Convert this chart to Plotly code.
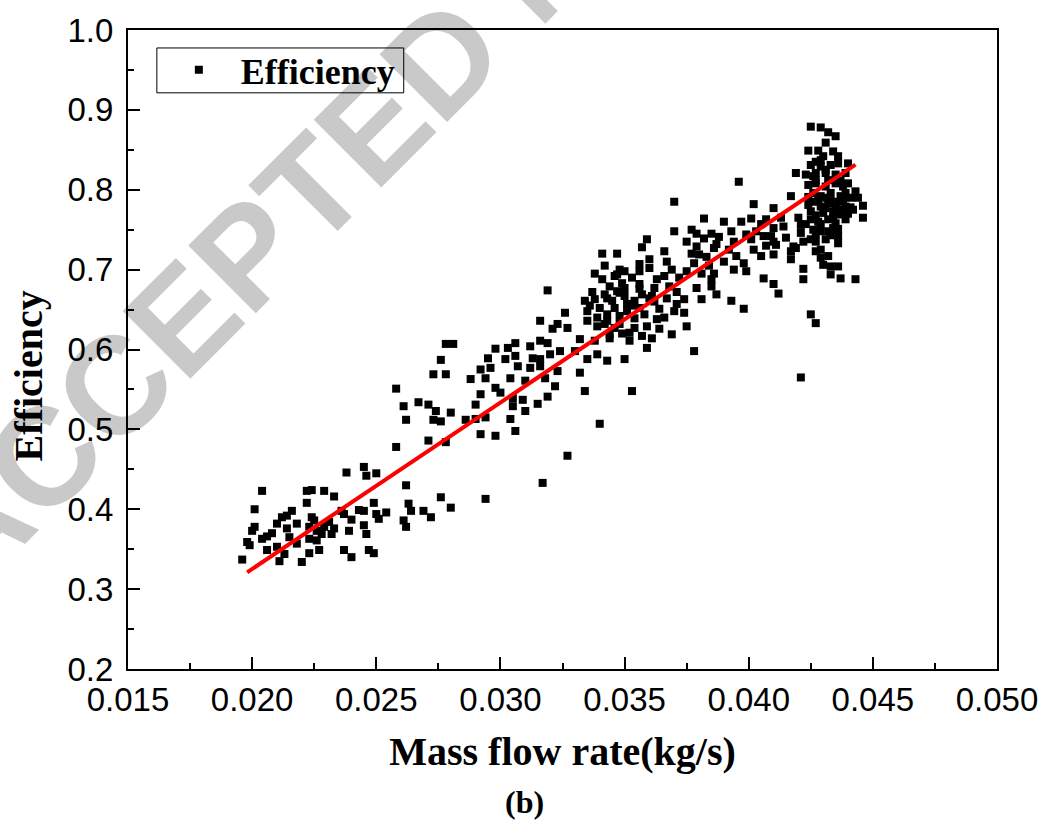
import plotly.graph_objects as go

# ---------------- data ----------------
# low-flow cluster
low_x = [0.0196, 0.0198, 0.0199, 0.0200, 0.0201, 0.0201, 0.0204, 0.0204, 0.0206, 0.0206,
         0.0208, 0.0210, 0.0210, 0.0211, 0.0213, 0.0212, 0.0214, 0.0216, 0.0214, 0.0215,
         0.0218, 0.0218, 0.0220, 0.0222, 0.0222, 0.0224, 0.0223, 0.0224, 0.0223, 0.0225,
         0.0226, 0.0223, 0.0226, 0.0227, 0.0229, 0.0229, 0.0228, 0.0231, 0.0233, 0.0233,
         0.0232, 0.0236, 0.0238, 0.0237, 0.0237, 0.0240, 0.0239, 0.0240, 0.0243, 0.0245,
         0.0245, 0.0246, 0.0250, 0.0245, 0.0246, 0.0247, 0.0249, 0.0249, 0.0250, 0.0251,
         0.0254, 0.0258, 0.0262, 0.0263, 0.0264, 0.0261, 0.0262, 0.0269, 0.0272, 0.0271,
         0.0276, 0.0280, 0.0294, 0.0317, 0.0327]
low_y = [0.337, 0.359, 0.355, 0.373, 0.378, 0.400, 0.423, 0.363, 0.349, 0.366,
         0.370, 0.382, 0.353, 0.335, 0.344, 0.390, 0.392, 0.398, 0.376, 0.365,
         0.382, 0.357, 0.334, 0.423, 0.408, 0.424, 0.345, 0.390, 0.378, 0.386,
         0.373, 0.363, 0.361, 0.349, 0.423, 0.378, 0.369, 0.384, 0.416, 0.376,
         0.369, 0.398, 0.446, 0.394, 0.349, 0.387, 0.373, 0.340, 0.399, 0.398,
         0.453, 0.442, 0.445, 0.380, 0.369, 0.349, 0.345, 0.408, 0.394, 0.388,
         0.396, 0.478, 0.430, 0.407, 0.398, 0.386, 0.378, 0.398, 0.390, 0.486,
         0.415, 0.402, 0.413, 0.433, 0.467]

# transition region
mid_x = [0.0278, 0.0281, 0.0276, 0.0273, 0.0278, 0.0258, 0.0261, 0.0262, 0.0267, 0.0271,
         0.0274, 0.0273, 0.0276, 0.0280, 0.0278, 0.0286, 0.0290, 0.0290, 0.0288]
mid_y = [0.607, 0.607, 0.587, 0.569, 0.569, 0.551, 0.529, 0.512, 0.534, 0.531,
         0.523, 0.512, 0.510, 0.521, 0.484, 0.512, 0.531, 0.513, 0.563]

# central cloud
core_x = [0.0341, 0.0347, 0.0357, 0.0342, 0.0338, 0.0347, 0.0350, 0.0356, 0.0360, 0.0319,
          0.0356, 0.0347, 0.0334, 0.0338, 0.0343, 0.0350, 0.0354, 0.0360, 0.0335, 0.0340,
          0.0346, 0.0351, 0.0358, 0.0326, 0.0316, 0.0323, 0.0327, 0.0321, 0.0335, 0.0339,
          0.0343, 0.0348, 0.0354, 0.0359, 0.0332, 0.0338, 0.0344, 0.0352, 0.0359, 0.0316,
          0.0319, 0.0312, 0.0306, 0.0303, 0.0298, 0.0295, 0.0302, 0.0306, 0.0313, 0.0316,
          0.0320, 0.0324, 0.0330, 0.0335, 0.0339, 0.0343, 0.0350, 0.0292, 0.0296, 0.0307,
          0.0312, 0.0316, 0.0323, 0.0332, 0.0294, 0.0304, 0.0310, 0.0318, 0.0322, 0.0298,
          0.0300, 0.0334, 0.0353, 0.0292, 0.0305, 0.0309, 0.0315, 0.0319, 0.0305, 0.0310,
          0.0304, 0.0294, 0.0306, 0.0298, 0.0292, 0.0340,
          0.0336, 0.0337, 0.0341, 0.0345, 0.0349, 0.0353, 0.0357, 0.0353, 0.0349, 0.0339,
          0.0346, 0.0357, 0.0362, 0.0366, 0.0371, 0.0372, 0.0371, 0.0366]
core_y = [0.720, 0.720, 0.728, 0.705, 0.695, 0.694, 0.698, 0.707, 0.702, 0.674,
          0.682, 0.673, 0.661, 0.663, 0.664, 0.667, 0.661, 0.664, 0.648, 0.652,
          0.652, 0.648, 0.644, 0.646, 0.636, 0.632, 0.627, 0.626, 0.636, 0.629,
          0.636, 0.632, 0.627, 0.629, 0.613, 0.611, 0.614, 0.611, 0.602, 0.611,
          0.608, 0.604, 0.608, 0.602, 0.601, 0.589, 0.588, 0.592, 0.589, 0.588,
          0.594, 0.598, 0.598, 0.588, 0.594, 0.586, 0.588, 0.575, 0.577, 0.579,
          0.577, 0.579, 0.573, 0.571, 0.564, 0.564, 0.561, 0.564, 0.554, 0.552,
          0.546, 0.548, 0.548, 0.544, 0.539, 0.537, 0.532, 0.541, 0.529, 0.523,
          0.513, 0.515, 0.498, 0.492, 0.494, 0.507,
          0.655, 0.672, 0.688, 0.661, 0.683, 0.690, 0.669, 0.655, 0.620, 0.640,
          0.627, 0.617, 0.660, 0.692, 0.672, 0.690, 0.657, 0.640]

# upper band
upper_x = [0.0370, 0.0402, 0.0410, 0.0382, 0.0390, 0.0397, 0.0401, 0.0405, 0.0377, 0.0370,
           0.0379, 0.0385, 0.0393, 0.0359, 0.0375, 0.0382, 0.0387, 0.0394, 0.0401, 0.0406,
           0.0410, 0.0379, 0.0386, 0.0402, 0.0366, 0.0377, 0.0380, 0.0405, 0.0410, 0.0367,
           0.0360, 0.0395, 0.0390, 0.0398, 0.0348, 0.0356, 0.0369, 0.0375, 0.0381, 0.0386,
           0.0394, 0.0399, 0.0346, 0.0363, 0.0385, 0.0406, 0.0344, 0.0350, 0.0356, 0.0362,
           0.0368, 0.0379, 0.0385, 0.0410, 0.0342, 0.0348, 0.0361, 0.0367, 0.0374, 0.0381,
           0.0387, 0.0393, 0.0351, 0.0356, 0.0364, 0.0370, 0.0374, 0.0398, 0.0343, 0.0348,
           0.0354, 0.0363, 0.0342, 0.0364, 0.0375, 0.0344, 0.0352, 0.0361, 0.0369, 0.0378,
           0.0396, 0.0378, 0.0383, 0.0388, 0.0392, 0.0399, 0.0403, 0.0407, 0.0384]
upper_y = [0.785, 0.782, 0.777, 0.764, 0.760, 0.760, 0.764, 0.757, 0.750, 0.748,
           0.745, 0.745, 0.748, 0.738, 0.735, 0.739, 0.732, 0.735, 0.738, 0.742,
           0.735, 0.729, 0.727, 0.725, 0.723, 0.720, 0.719, 0.717, 0.719, 0.710,
           0.713, 0.717, 0.710, 0.708, 0.700, 0.698, 0.700, 0.698, 0.695, 0.695,
           0.700, 0.698, 0.692, 0.688, 0.688, 0.689, 0.679, 0.677, 0.676, 0.677,
           0.679, 0.677, 0.679, 0.682, 0.669, 0.671, 0.667, 0.664, 0.663, 0.663,
           0.669, 0.661, 0.657, 0.652, 0.651, 0.648, 0.646, 0.651, 0.644, 0.642,
           0.639, 0.638, 0.632, 0.626, 0.629, 0.619, 0.621, 0.614, 0.619, 0.598,
           0.810, 0.708, 0.716, 0.741, 0.725, 0.744, 0.748, 0.730, 0.705]

# high-flow cluster
high_x = [0.0425, 0.0429, 0.0432, 0.0435, 0.0431, 0.0424, 0.0428, 0.0430, 0.0434, 0.0436,
          0.0425, 0.0427, 0.0429, 0.0433, 0.0440, 0.0419, 0.0423, 0.0426, 0.0431, 0.0435,
          0.0439, 0.0424, 0.0427, 0.0431, 0.0435, 0.0438, 0.0443, 0.0417, 0.0426, 0.0429,
          0.0433, 0.0437, 0.0439, 0.0426, 0.0429, 0.0432, 0.0436, 0.0439, 0.0446, 0.0442,
          0.0425, 0.0430, 0.0434, 0.0437, 0.0446, 0.0407, 0.0413, 0.0420, 0.0425, 0.0428,
          0.0432, 0.0435, 0.0439, 0.0410, 0.0414, 0.0421, 0.0426, 0.0429, 0.0434, 0.0409,
          0.0415, 0.0421, 0.0425, 0.0427, 0.0436, 0.0411, 0.0418, 0.0422, 0.0417, 0.0419,
          0.0427, 0.0429, 0.0417, 0.0429, 0.0432, 0.0430, 0.0433, 0.0436, 0.0433, 0.0422,
          0.0422, 0.0437, 0.0443, 0.0412, 0.0425, 0.0427, 0.0421,
          0.0429, 0.0427, 0.0431, 0.0436, 0.0424, 0.0428, 0.0431, 0.0435, 0.0438, 0.0441,
          0.0427, 0.0431, 0.0434, 0.0437, 0.0440, 0.0429, 0.0432, 0.0436, 0.0423, 0.0427,
          0.0431, 0.0433, 0.0436, 0.0441, 0.0444, 0.0427, 0.0432, 0.0437, 0.0440, 0.0433,
          0.0424]
high_y = [0.879, 0.878, 0.872, 0.867, 0.859, 0.849, 0.849, 0.842, 0.848, 0.842,
          0.831, 0.835, 0.829, 0.831, 0.833, 0.821, 0.819, 0.817, 0.821, 0.819,
          0.821, 0.806, 0.808, 0.804, 0.808, 0.804, 0.798, 0.792, 0.796, 0.792,
          0.796, 0.792, 0.796, 0.785, 0.779, 0.783, 0.785, 0.779, 0.780, 0.775,
          0.773, 0.771, 0.773, 0.769, 0.765, 0.763, 0.765, 0.765, 0.763, 0.760,
          0.763, 0.758, 0.763, 0.752, 0.754, 0.756, 0.750, 0.748, 0.752, 0.742,
          0.740, 0.746, 0.738, 0.735, 0.733, 0.731, 0.729, 0.735, 0.723, 0.727,
          0.723, 0.725, 0.713, 0.715, 0.717, 0.706, 0.704, 0.704, 0.694, 0.701,
          0.688, 0.689, 0.688, 0.670, 0.644, 0.633, 0.565,
          0.837, 0.821, 0.825, 0.833, 0.781, 0.788, 0.790, 0.779, 0.787, 0.790,
          0.768, 0.777, 0.765, 0.775, 0.770, 0.757, 0.748, 0.751, 0.757, 0.744,
          0.738, 0.743, 0.742, 0.778, 0.790, 0.812, 0.812, 0.811, 0.808, 0.786,
          0.791]

# linear fit line end points
fit_x = [0.0198, 0.0443]
fit_y = [0.321, 0.8315]

mass_flow = low_x + mid_x + core_x + upper_x + high_x
efficiency = low_y + mid_y + core_y + upper_y + high_y

x_ticks = [0.015, 0.020, 0.025, 0.030, 0.035, 0.040, 0.045, 0.050]
y_ticks = [0.2, 0.3, 0.4, 0.5, 0.6, 0.7, 0.8, 0.9, 1.0]

SERIF = "Liberation Serif, Times New Roman, serif"
SANS = "Liberation Sans, Arial, sans-serif"

fig = go.Figure()
fig.add_trace(go.Scatter(
    x=mass_flow, y=efficiency, mode="markers", name="Efficiency",
    marker=dict(symbol="square", size=8, color="black", line=dict(width=0)),
))
fig.add_trace(go.Scatter(
    x=fit_x, y=fit_y, mode="lines", showlegend=False,
    line=dict(color="#ff0000", width=4),
))

axis_common = dict(
    showline=True, linecolor="black", linewidth=2, mirror=True,
    ticks="inside", ticklen=12, tickwidth=2, tickcolor="black",
    showgrid=False, zeroline=False,
    tickfont=dict(family=SANS, size=33, color="black"),
)

fig.update_layout(
    width=1050, height=820,
    margin=dict(l=128, r=49, t=28, b=151),
    paper_bgcolor="white", plot_bgcolor="white",
    xaxis=dict(
        range=[0.015, 0.050], tickvals=x_ticks, tickformat=".3f",
        minor=dict(ticks="inside", ticklen=6, tickwidth=2, tickcolor="black", dtick=0.0025, tick0=0.015),
        title=dict(text="Mass flow rate(kg/s)",
                   font=dict(family=SERIF, size=40, color="black", weight="bold"), standoff=20),
        ticklabelstandoff=0,
        **axis_common,
    ),
    xaxis2=dict(
        range=[0.015, 0.050], overlaying="x", side="top", tick0=0.015, dtick=0.0025,
        ticks="inside", ticklen=4, tickwidth=2, tickcolor="black",
        showticklabels=False, showgrid=False, zeroline=False, showline=False,
    ),
    yaxis=dict(
        range=[0.2, 1.0], tickvals=y_ticks, tickformat=".1f",
        minor=dict(ticks="inside", ticklen=6, tickwidth=2, tickcolor="black", dtick=0.05, tick0=0.2),
        ticklabelstandoff=6,
        **axis_common,
    ),
    legend=dict(
        x=0.0332, y=0.9844, xanchor="left", yanchor="top",
        bgcolor="rgba(0,0,0,0)", borderwidth=0,
        font=dict(family=SERIF, size=36, color="black", weight="bold"),
        itemwidth=74,
    ),
    showlegend=True,
)

# legend frame
fig.add_shape(type="rect", xref="paper", yref="paper",
              x0=0.0332, x1=0.3173, y0=0.9017, y1=0.9719,
              line=dict(color="black", width=1), fillcolor="white", layer="above")

# watermark
fig.add_annotation(
    text="ACCEPTED MANUSCRIPT", xref="paper", yref="paper", x=0.483, y=1.1217,
    xanchor="center", yanchor="middle", showarrow=False, textangle=-45,
    font=dict(family=SANS, size=139, color="rgba(0,0,0,0.21)", weight="bold"),
)
# y-axis title
fig.add_annotation(
    text="Efficiency", xref="paper", yref="paper", x=-0.1145, y=0.4587,
    xanchor="center", yanchor="middle", showarrow=False, textangle=-90,
    font=dict(family=SERIF, size=40, color="black", weight="bold"),
)
# panel label
fig.add_annotation(
    text="(b)", xref="paper", yref="paper", x=0.4559, y=-0.2075,
    xanchor="center", yanchor="middle", showarrow=False,
    font=dict(family=SERIF, size=32, color="black", weight="bold"),
)

fig.write_html("out.html")
